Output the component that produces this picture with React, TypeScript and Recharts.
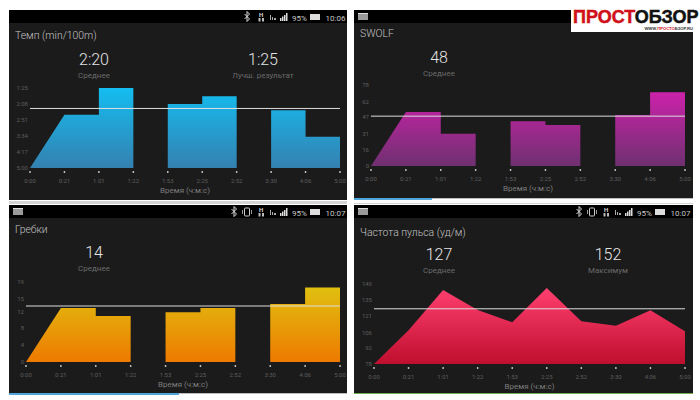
import React from "react";
import { AreaChart, Area, XAxis, YAxis, ReferenceLine } from "recharts";

const timeLabels = ["0:00", "0:21", "1:01", "1:22", "1:53", "2:25", "2:52", "3:30", "4:06", "5:00"];
const timeTicks = [0, 1, 2, 3, 4, 5, 6, 7, 8, 9];

// lap charts: steps with gaps (rest) between the laps
const stepX = [0, 1, 2, 2, 3, 3.5, 4, 5, 5, 6, 6.5, 7, 8, 8, 9];
const paceValues = [300, 157, 157, 85, 85, null, 128, 128, 107, 107, null, 145, 145, 216, 216];
const swolfValues = [0, 52, 52, 31, 31, null, 43, 43, 39.5, 39.5, null, 49, 49, 71, 71];
const strokeValues = [0, 12.85, 12.85, 10.9, 10.9, null, 11.8, 11.8, 12.85, 12.85, null, 13.8, 13.8, 17.7, 17.7];

const pulseX = timeTicks;
const pulseValues = [78, 108, 143.7, 126, 115, 145.5, 116, 112, 125.7, 107];

const paceTicks = [85, 128, 171, 214, 257, 300];
const paceTickLabels = ["1:25", "2:08", "2:51", "3:34", "4:17", "5:00"];
const swolfTicks = [0, 16, 31, 47, 62, 78];
const strokeTicks = [0, 4, 8, 12, 15, 19];
const pulseTicks = [78, 92, 106, 121, 135, 149];

const zip = (xs: number[], vs: (number | null)[]) => xs.map((x, i) => ({ x, v: vs[i] }));

const TimeTick = (props: any) => {
  const { x, y, payload } = props;
  return (
    <g>
      <circle cx={x} cy={y - 2} r={0.9} fill="#cfcfcf" />
      <text x={x} y={y + 9} textAnchor="middle" fontSize={6} fill="#5e5e5e" fontFamily="Roboto">
        {timeLabels[payload.value]}
      </text>
    </g>
  );
};

const StatusBar = ({ time, vibrate, keyboard, icons = true }: { time?: string; vibrate?: boolean; keyboard?: boolean; icons?: boolean }) => {
  const btX = vibrate ? 225 : 238;
  return (
    <div style={{ position: "absolute", left: 0, top: 0, right: 0, height: 13, background: "#000" }}>
      {keyboard && <div style={{ position: "absolute", left: 4, top: 3, width: 10, height: 7, background: "#9a9a9a", borderTop: "1px solid #ddd", boxSizing: "border-box" }} />}
      {icons && (
        <svg width={338} height={13} style={{ position: "absolute", left: 0, top: 0 }}>
          <path d={`M${btX - 2.5} 4 L${btX + 2.5} 9 L${btX} 11.5 L${btX} 1.5 L${btX + 2.5} 4 L${btX - 2.5} 9`} fill="none" stroke="#ddd" strokeWidth={1} />
          {vibrate && <rect x={235.5} y={3} width={5} height={8} rx={1} fill="none" stroke="#ccc" />}
          {vibrate && <rect x={233} y={5} width={1} height={4} fill="#999" />}
          {vibrate && <rect x={242} y={5} width={1} height={4} fill="#999" />}
          <text x={252} y={6.5} fontSize={6} fontWeight={700} fill="#ddd" fontFamily="Roboto" textAnchor="middle">H</text>
          <rect x={249.5} y={8} width={2} height={3.5} fill="#bbb" />
          <rect x={253} y={8} width={2} height={3.5} fill="#bbb" />
          <rect x={261} y={5} width={1} height={5} fill="#aaa" />
          <rect x={263} y={7} width={1} height={3} fill="#aaa" />
          <rect x={265} y={8} width={2} height={2} fill="#aaa" />
          <rect x={271} y={8} width={1.5} height={3} fill="#ddd" />
          <rect x={273} y={6.5} width={1.5} height={4.5} fill="#ddd" />
          <rect x={275} y={5} width={1.5} height={6} fill="#ddd" />
          <rect x={277} y={3} width={1.5} height={8} fill="#ddd" />
          <text x={283} y={10.5} fontSize={8} fill="#c8c8c8" fontFamily="Roboto">95%</text>
          <rect x={301} y={4} width={10} height={6} fill="#ddd" />
          <text x={316.5} y={10.5} fontSize={8} fill="#c8c8c8" fontFamily="Roboto">{time}</text>
        </svg>
      )}
    </div>
  );
};

type PanelProps = {
  left: number; top: number; width: number; height: number;
  title: string; titleY: number;
  stats: { value: string; label: string; cx: number }[]; statY: number;
  data: { x: number; v: number | null }[];
  ticks: number[]; tickLabels?: string[]; reversed?: boolean; base: number; avg: number;
  plot: { l: number; r: number; t: number; b: number };
  colors: [string, string]; id: string;
  time?: string; vibrate?: boolean; keyboard?: boolean; icons?: boolean;
};

const Panel = (p: PanelProps) => {
  const dom = [p.ticks[0], p.ticks[p.ticks.length - 1]];
  return (
    <div style={{ position: "absolute", left: p.left, top: p.top, width: p.width, height: p.height, background: "#1b1b1b", fontFamily: "Roboto", overflow: "hidden" }}>
      <StatusBar time={p.time} vibrate={p.vibrate} keyboard={p.keyboard} icons={p.icons} />
      <div style={{ position: "absolute", left: 6, top: p.titleY - 8, lineHeight: "16px", fontSize: 10.4, fontWeight: 300, color: "#c4c4c4", whiteSpace: "nowrap" }}>{p.title}</div>
      {p.stats.map((s) => (
        <React.Fragment key={s.label}>
          <div style={{ position: "absolute", left: s.cx - 50, width: 100, textAlign: "center", top: p.statY - 10, lineHeight: "20px", fontSize: 16, fontWeight: 300, color: "#e4e4e4" }}>{s.value}</div>
          <div style={{ position: "absolute", left: s.cx - 50, width: 100, textAlign: "center", top: p.statY + 10, lineHeight: "12px", fontSize: 8, color: "#6a6a6a" }}>{s.label}</div>
        </React.Fragment>
      ))}
      <div style={{ position: "absolute", left: p.plot.l, width: p.plot.r - p.plot.l, textAlign: "center", top: p.plot.b + 17, lineHeight: "12px", fontSize: 8, color: "#7c7c7c" }}>Время (ч:м:с)</div>
      <div style={{ position: "absolute", left: 0, top: 0 }}>
        <AreaChart
          width={p.width}
          height={p.plot.b + 16}
          data={p.data}
          margin={{ top: p.plot.t, right: p.width - p.plot.r, bottom: 0, left: 0 }}
        >
          <defs>
            <linearGradient id={p.id} x1="0" y1="0" x2="0" y2="1">
              <stop offset="0%" stopColor={p.colors[0]} />
              <stop offset="100%" stopColor={p.colors[1]} />
            </linearGradient>
          </defs>
          <XAxis
            dataKey="x"
            type="number"
            domain={[0, 9]}
            ticks={timeTicks}
            interval={0}
            axisLine={false}
            tickLine={false}
            height={16}
            tick={<TimeTick />}
            tickMargin={0}
          />
          <YAxis
            type="number"
            width={p.plot.l}
            domain={dom}
            ticks={p.ticks}
            interval={0}
            reversed={p.reversed}
            axisLine={false}
            tickLine={false}
            tickSize={0}
            tickMargin={2}
            tick={{ fontSize: 6, fill: "#5e5e5e", fontFamily: "Roboto" }}
            tickFormatter={(v: number, i: number) => (p.tickLabels ? p.tickLabels[i] : String(v))}
          />
          <Area
            dataKey="v"
            type="linear"
            stroke="none"
            fill={`url(#${p.id})`}
            fillOpacity={1}
            baseValue={p.base}
            dot={false}
            activeDot={false}
            isAnimationActive={false}
          />
          <ReferenceLine y={p.avg} stroke="#dedede" strokeWidth={1} />
        </AreaChart>
      </div>
    </div>
  );
};

export default function App() {
  return (
    <div style={{ position: "absolute", left: 0, top: 0, width: 700, height: 400, background: "#fff", overflow: "hidden" }}>
      <div style={{ position: "absolute", left: 9, top: 201, width: 338, height: 3, background: "#d4d4d4" }} />
      <div style={{ position: "absolute", left: 354, top: 203, width: 339, height: 1, background: "#d4d4d4" }} />
      <div style={{ position: "absolute", left: 354, top: 198, width: 339, height: 1, background: "#bdbdbd" }} />
      <div style={{ position: "absolute", left: 354, top: 198, width: 78, height: 2, background: "#4ea6dc" }} />
      <div style={{ position: "absolute", left: 9, top: 393, width: 338, height: 1, background: "#bdbdbd" }} />
      <div style={{ position: "absolute", left: 9, top: 393, width: 170, height: 2, background: "#4ea6dc" }} />
      <div style={{ position: "absolute", left: 354, top: 393, width: 339, height: 1, background: "#6fae4e" }} />

      <Panel
        id="pace" left={9} top={10} width={338} height={190}
        title="Темп (min/100m)" titleY={26}
        stats={[{ value: "2:20", label: "Среднее", cx: 85 }, { value: "1:25", label: "Лучш. результат", cx: 254 }]} statY={50}
        data={zip(stepX, paceValues)} ticks={paceTicks} tickLabels={paceTickLabels} reversed base={300} avg={140}
        plot={{ l: 21, r: 331, t: 78, b: 158 }} colors={["#14bdf0", "#3481b0"]}
        time="10:06"
      />
      <Panel
        id="swolf" left={354} top={10} width={339} height={188}
        title="SWOLF" titleY={24}
        stats={[{ value: "48", label: "Среднее", cx: 85 }]} statY={48}
        data={zip(stepX, swolfValues)} ticks={swolfTicks} base={0} avg={48}
        plot={{ l: 17, r: 331, t: 75, b: 156 }} colors={["#cc22aa", "#6f3070"]}
        keyboard icons={false}
      />
      <Panel
        id="stroke" left={9} top={205} width={338} height={188}
        title="Гребки" titleY={25}
        stats={[{ value: "14", label: "Среднее", cx: 85 }]} statY={48}
        data={zip(stepX, strokeValues)} ticks={strokeTicks} base={0} avg={13.3}
        plot={{ l: 17, r: 331, t: 77, b: 157 }} colors={["#e0c010", "#ee7a00"]}
        time="10:07" vibrate keyboard
      />
      <Panel
        id="pulse" left={354} top={205} width={339} height={188}
        title="Частота пульса (уд/м)" titleY={28}
        stats={[{ value: "127", label: "Среднее", cx: 85 }, { value: "152", label: "Максимум", cx: 254 }]} statY={50}
        data={zip(pulseX, pulseValues)} ticks={pulseTicks} base={78} avg={127}
        plot={{ l: 20, r: 331, t: 79, b: 159 }} colors={["#ff4070", "#bf0f2e"]}
        time="10:07" vibrate keyboard
      />

      {/* logo */}
      <div style={{ position: "absolute", left: 571, top: 0, width: 129, height: 32, background: "#fff", fontFamily: "Liberation Sans", fontWeight: 700, whiteSpace: "nowrap" }}>
        <div style={{ position: "absolute", left: 2, top: 6.5, fontSize: 18, lineHeight: "20px", color: "#111", WebkitTextStroke: "0.5px currentColor" }}>
          <span style={{ color: "#cf1018" }}>ПРОСТ</span>ОБЗОР
        </div>
        <div style={{ position: "absolute", right: 7, top: 26, fontSize: 4.2, lineHeight: "5px", color: "#333" }}>
          WWW.<span style={{ color: "#cf1018" }}>ПРОСТО</span>БЗОР.RU
        </div>
      </div>
    </div>
  );
}
